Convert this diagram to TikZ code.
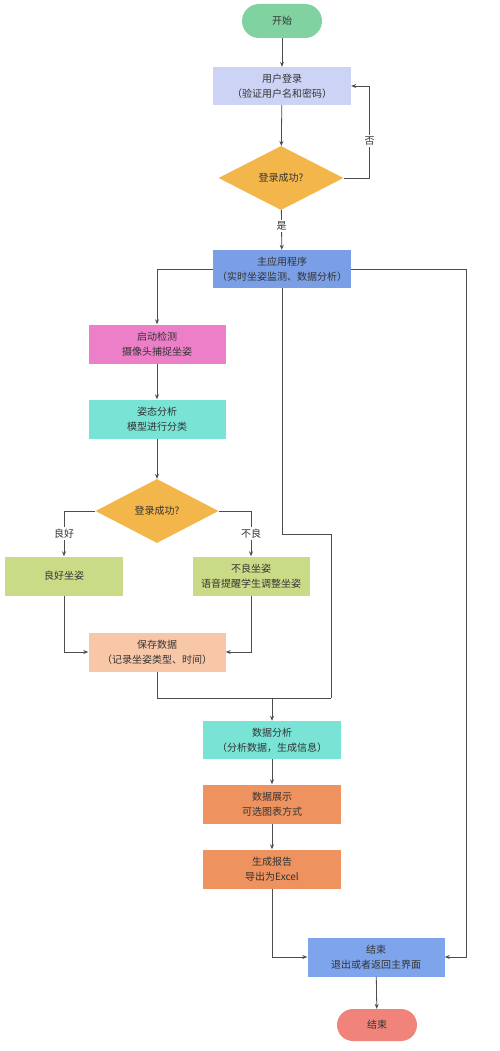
\documentclass[tikz,border=0pt]{standalone}
\usepackage{fontspec}
\setmainfont{Noto Sans CJK SC}
\usetikzlibrary{shapes.geometric,arrows.meta}
\definecolor{startgreen}{HTML}{80D3A0}
\definecolor{loginblue}{HTML}{CCD3F5}
\definecolor{decide}{HTML}{F3B64A}
\definecolor{mainblue}{HTML}{7B9FE6}
\definecolor{detectpink}{HTML}{EC7FC8}
\definecolor{teal}{HTML}{79E3D5}
\definecolor{olive}{HTML}{CADB87}
\definecolor{peach}{HTML}{F8C7A8}
\definecolor{orange}{HTML}{EE935F}
\definecolor{finishblue}{HTML}{7EA5EC}
\definecolor{stopred}{HTML}{F0847A}
\definecolor{linegray}{HTML}{4D4D4D}
\tikzset{
  base/.style={font=\fontsize{10}{15}\selectfont, text=black!80, align=center, inner sep=2pt},
  terminal/.style={base, minimum width=80pt, minimum height=34pt, rounded corners=17pt, fill=#1},
  stepbox/.style={base, rectangle, minimum width=138pt, minimum height=38pt, fill=#1},
  decision/.style={base, diamond, aspect=2, inner sep=0pt, minimum width=125pt, minimum height=64pt, fill=decide},
  lab/.style={base, fill=white, inner sep=1.5pt}
}
\begin{document}
\begin{tikzpicture}[x=1pt,y=-1pt]
  \useasboundingbox[fill=white] (0,0) rectangle (500,1051);
  \node[terminal=startgreen] (start) at (282,21) {开始};
  \node[stepbox=loginblue] (login) at (282,86) {用户登录\\（验证用户名和密码）};
  \node[decision] (check) at (281,178) {登录成功?};
  \node[stepbox=mainblue] (main) at (282,269) {主应用程序\\（实时坐姿监测、数据分析）};
  \node[stepbox=detectpink, minimum width=137pt, minimum height=39pt] (detect) at (157,344) {启动检测\\摄像头捕捉坐姿};
  \node[stepbox=teal, minimum width=137pt, minimum height=39pt] (pose) at (157,419) {姿态分析\\模型进行分类};
  \node[decision, minimum width=123pt] (judge) at (157,511) {登录成功?};
  \node[stepbox=olive, minimum width=118pt, minimum height=39pt] (good) at (64,576) {良好坐姿};
  \node[stepbox=olive, minimum width=117pt, minimum height=39pt] (bad) at (251,576) {不良坐姿\\语音提醒学生调整坐姿};
  \node[stepbox=peach, minimum width=137pt, minimum height=39pt] (save) at (157,652) {保存数据\\（记录坐姿类型、时间）};
  \node[stepbox=teal] (analysis) at (272,740) {数据分析\\（分析数据，生成信息）};
  \node[stepbox=orange, minimum height=39pt] (show) at (272,804) {数据展示\\可选图表方式};
  \node[stepbox=orange, minimum height=39pt] (report) at (272,869) {生成报告\\导出为Excel};
  \node[stepbox=finishblue, minimum width=137pt, minimum height=39pt] (finish) at (376,957) {结束\\退出或者返回主界面};
  \node[terminal=stopred, minimum height=32pt, rounded corners=16pt] (stop) at (377,1025) {结束};
  \coordinate (mergeR) at (331,698);
  \coordinate (merge) at (272,698);
  \begin{scope}[draw=linegray, line width=0.8pt, >={Stealth[length=5pt,width=4pt]}]
    \draw[->] (start) -- (login);
    \draw[->] (login) -- (check);
    \draw[->] (check.east) -- ++(26,0) |- (login.east) node[lab, pos=0.2] {否};
    \draw[->] (check) -- (main) node[lab, pos=0.4] {是};
    \draw[->] (main.west) -| (detect.north);
    \draw[->] (main.east) -- ++(115,0) |- (finish.east);
    \draw (main.south) -- ++(0,246) -| (mergeR);
    \draw[->] (detect) -- (pose);
    \draw[->] (pose) -- (judge);
    \draw[->] (judge.west) -| (good.north) node[lab, pos=0.75] {良好};
    \draw[->] (judge.east) -| (bad.north) node[lab, pos=0.75] {不良};
    \draw[->] (good.south) |- (save.west);
    \draw[->] (bad.south) |- (save.east);
    \draw (save.south) |- (mergeR);
    \draw[->] (merge) -- (analysis);
    \draw[->] (analysis) -- (show);
    \draw[->] (show) -- (report);
    \draw[->] (report.south) |- (finish.west);
    \draw[->] (finish) -- (stop);
  \end{scope}
\end{tikzpicture}
\end{document}
